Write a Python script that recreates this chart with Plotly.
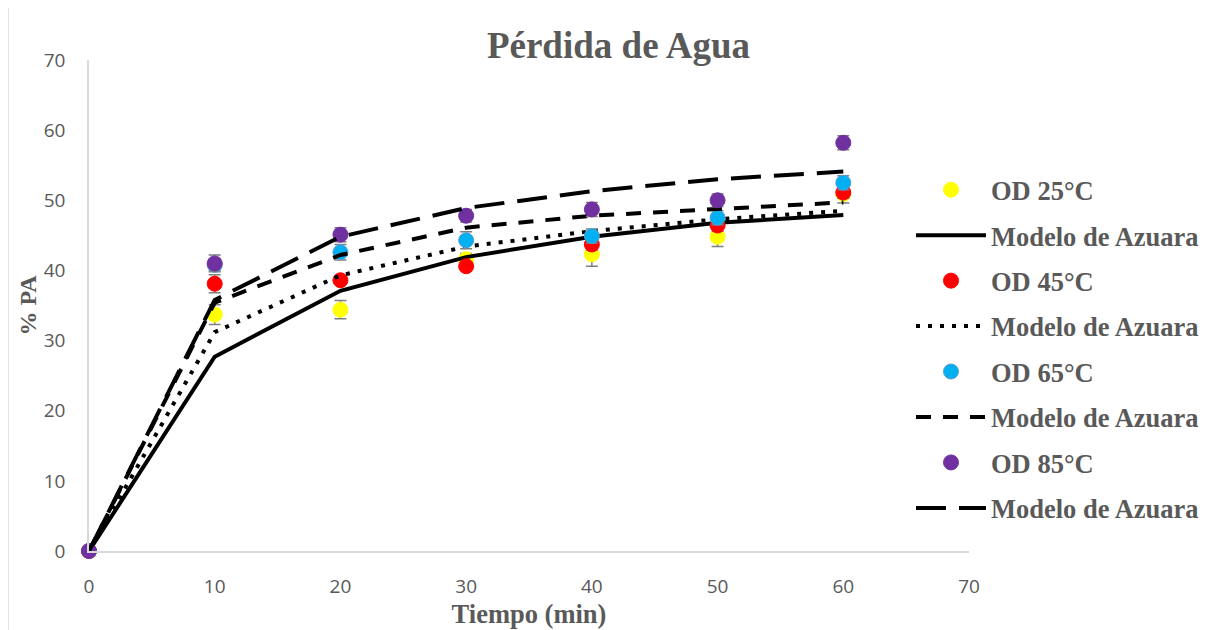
import plotly.graph_objects as go

tiempo = [0, 10, 20, 30, 40, 50, 60]

od25 = [0, 33.7, 34.4, 41.6, 42.3, 44.8, 50.9]
od25_err = [0, 1.4, 1.3, 0.8, 1.7, 1.4, 1.3]
mod25 = [0, 27.7, 37.1, 41.9, 44.8, 46.8, 47.9]

od45 = [0, 38.1, 38.6, 40.6, 43.7, 46.4, 51.1]
od45_err = [0, 1.3, 0.5, 0.6, 0.8, 0.8, 0.8]
mod45 = [0, 31.2, 39.3, 43.4, 45.6, 47.3, 48.5]

od65 = [0, 40.8, 42.6, 44.3, 44.9, 47.5, 52.5]
od65_err = [0, 0.8, 1.1, 1.2, 1.0, 1.0, 1.0]
mod65 = [0, 35.4, 42.2, 46.1, 47.8, 48.8, 49.7]

od85 = [0, 41.0, 45.1, 47.8, 48.7, 50.0, 58.2]
od85_err = [0, 1.2, 1.0, 0.9, 1.0, 0.9, 1.0]
mod85 = [0, 35.8, 44.8, 48.9, 51.3, 53.0, 54.1]

serif = "Liberation Serif"
grey_txt = "#595959"
axis_grey = "#D9D9D9"

series = [
    ("OD 25°C", od25, od25_err, "#FFFF00", "#FFFF00", "Modelo de Azuara", mod25, "solid"),
    ("OD 45°C", od45, od45_err, "#FF0000", "#FF0000", "Modelo de Azuara", mod45, "4px,8px"),
    ("OD 65°C", od65, od65_err, "#00B0F0", "#5B9BD5", "Modelo de Azuara", mod65, "15px,12px"),
    ("OD 85°C", od85, od85_err, "#7030A0", "#7030A0", "Modelo de Azuara", mod85, "30px,13px"),
]

fig = go.Figure()
g = 0
for name, vals, err, col, edge, mname, mvals, dash in series:
    fig.add_trace(go.Scatter(
        x=tiempo, y=vals, mode="markers", name=f"<b>{name}</b>",
        legendgroup=f"g{g}",
        marker=dict(color=col, size=15, line=dict(color=edge, width=1)),
        error_y=dict(type="data", array=err, visible=True, color="#7F7F7F",
                     thickness=1.5, width=6),
        cliponaxis=False,
    ))
    g += 1
    fig.add_trace(go.Scatter(
        x=tiempo, y=mvals, mode="lines", name=f"<b>{mname}</b>",
        legendgroup=f"g{g}",
        line=dict(color="black", width=4, dash=dash),
        cliponaxis=False,
    ))
    g += 1

fig.update_layout(
    width=1221, height=630,
    paper_bgcolor="white", plot_bgcolor="white",
    margin=dict(l=81, r=260, t=52, b=87, autoexpand=False),
    title=dict(text="<b>Pérdida de Agua</b>", x=0.5, xref="container",
               y=1 - 37 / 630, yref="container", xanchor="center", yanchor="middle",
               font=dict(family=serif, size=37, color=grey_txt)),
    legend=dict(
        x=(910 - 88) / 880, xanchor="left", y=(550 - 165) / 491, yanchor="top",
        font=dict(family=serif, size=26.5, color=grey_txt),
        itemwidth=70, traceorder="grouped", tracegroupgap=8,
        bgcolor="rgba(0,0,0,0)",
    ),
    showlegend=True,
)

fig.update_xaxes(
    range=[0, 70], dtick=10, tick0=0, automargin=False,
    showgrid=False, zeroline=False,
    showline=True, linecolor=axis_grey, linewidth=1.5,
    ticks="", ticklabelstandoff=17,
    tickfont=dict(family="Open Sans", size=19, color=grey_txt),
    title=dict(text="<b>Tiempo (min)</b>", standoff=5,
               font=dict(family=serif, size=26.5, color=grey_txt)),
)
fig.update_yaxes(
    range=[0, 70], dtick=10, tick0=0, automargin=False,
    showgrid=False, zeroline=False,
    showline=True, linecolor=axis_grey, linewidth=1.5,
    ticks="", ticklabelstandoff=18,
    tickfont=dict(family="Open Sans", size=19, color=grey_txt),
    title=dict(text="<b>% PA</b>", standoff=0,
               font=dict(family=serif, size=24, color=grey_txt)),
)

fig.add_shape(type="rect", xref="paper", yref="paper",
              x0=(7 - 88) / 880, x1=(1240 - 88) / 880,
              y0=(550 - 650) / 491, y1=(550 - 4) / 491,
              line=dict(color=axis_grey, width=1.5), fillcolor="rgba(0,0,0,0)",
              layer="below")

fig.write_html("out.html")
